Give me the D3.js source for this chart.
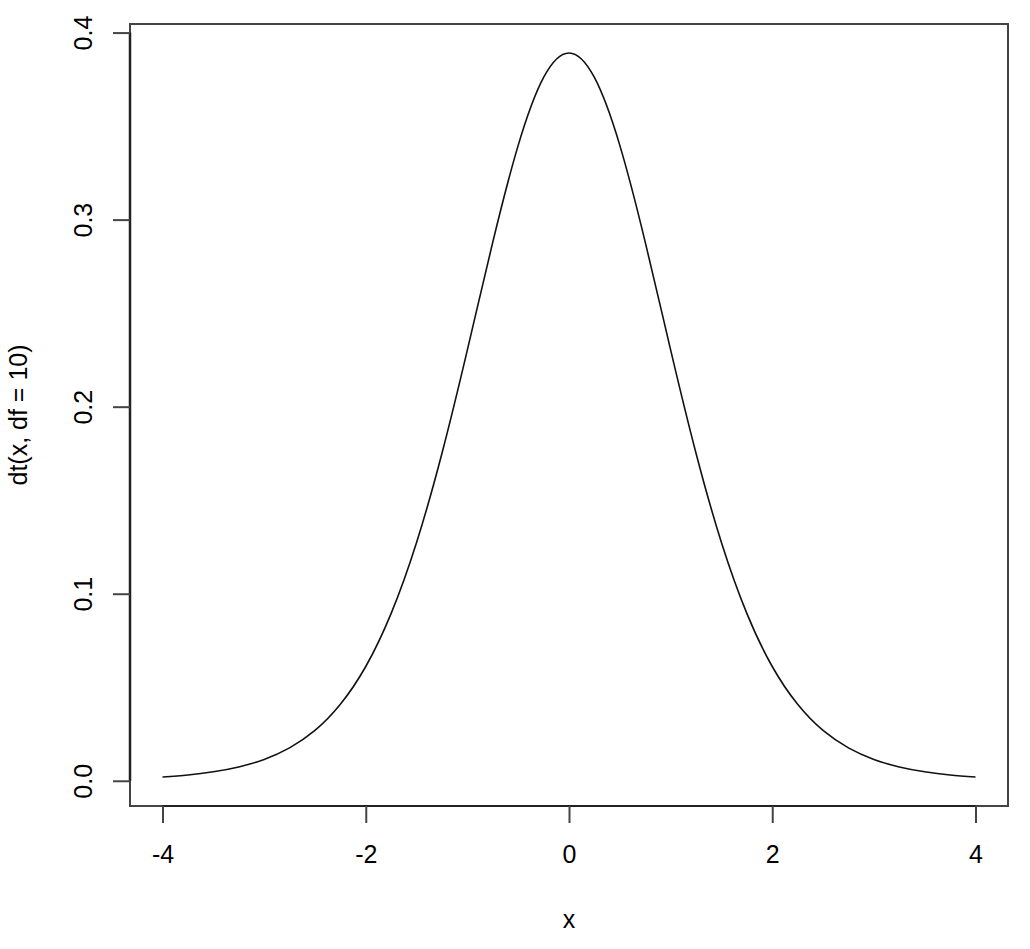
<!DOCTYPE html>
<html>
<head>
<meta charset="utf-8">
<script src="https://cdn.jsdelivr.net/npm/d3@7"></script>
<style>
  html, body { margin: 0; padding: 0; background: #fff; }
  svg { display: block; }
  text { font-family: "Liberation Sans", Arial, Helvetica, sans-serif; fill: #000; }
</style>
</head>
<body>
<svg id="chart" width="1030" height="949"></svg>
<script>
// Values
const xValues = [-4, -3.75, -3.5, -3.25, -3, -2.75, -2.5, -2.25, -2, -1.75, -1.5, -1.25, -1, -0.75, -0.5, -0.25,
                 0, 0.25, 0.5, 0.75, 1, 1.25, 1.5, 1.75, 2, 2.25, 2.5, 2.75, 3, 3.25, 3.5, 3.75, 4];
const densityValues = [0.0020, 0.0031, 0.0048, 0.0074, 0.0114, 0.0176, 0.0269, 0.0409, 0.0611, 0.0895, 0.1274, 0.1751, 0.2304, 0.2880, 0.3397, 0.3760,
                       0.3891, 0.3760, 0.3397, 0.2880, 0.2304, 0.1751, 0.1274, 0.0895, 0.0611, 0.0409, 0.0269, 0.0176, 0.0114, 0.0074, 0.0048, 0.0031, 0.0020];
const xTicks = [-4, -2, 0, 2, 4];
const yTicks = [0.0, 0.1, 0.2, 0.3, 0.4];
const yTickLabels = ["0.0", "0.1", "0.2", "0.3", "0.4"];
const xTitle = "x";
const yTitle = "dt(x, df = 10)";

(function () {
const svg = d3.select("#chart");
const pL = 130, pR = 1008, pT = 24, pB = 806;
const fontSize = 25;

// R-style 4% range extension
const xMin = d3.min(xValues), xMax = d3.max(xValues);
const yMin = d3.min(densityValues), yMax = d3.max(densityValues);
const xPad = (xMax - xMin) * 0.04, yPad = (yMax - yMin) * 0.04;
const x = d3.scaleLinear().domain([xMin - xPad, xMax + xPad]).range([pL, pR]);
const y = d3.scaleLinear().domain([yMin - yPad, yMax + yPad]).range([pB, pT]);

// Curve
const data = xValues.map((v, i) => [v, densityValues[i]]);
svg.append("path")
  .datum(data)
  .attr("fill", "none")
  .attr("stroke", "#111")
  .attr("stroke-width", 1.6)
  .attr("d", d3.line().x(d => x(d[0])).y(d => y(d[1])).curve(d3.curveNatural));

// Box
svg.append("rect")
  .attr("x", pL).attr("y", pT)
  .attr("width", pR - pL).attr("height", pB - pT)
  .attr("fill", "none").attr("stroke", "#444").attr("stroke-width", 2);

// X axis
const xAxis = d3.axisBottom(x).tickValues(xTicks).tickSize(17).tickPadding(10).tickFormat(d3.format("d"));
const gx = svg.append("g").attr("transform", `translate(0,${pB})`).call(xAxis);
gx.select(".domain").attr("d", `M${x(xTicks[0])},0H${x(xTicks[xTicks.length-1])}`).attr("stroke", "#222").attr("stroke-width", 2);
gx.selectAll(".tick line").attr("stroke", "#444").attr("stroke-width", 2);
gx.selectAll(".tick text")
  .attr("font-size", fontSize)
  .attr("font-family", "'Liberation Sans', Arial, sans-serif")
  .attr("fill", "#000")
  .attr("dy", null)
  .attr("y", 57)
  .text(d => d < 0 ? "-" + Math.abs(d) : String(d));

// Y axis
const yAxis = d3.axisLeft(y).tickValues(yTicks).tickSize(17).tickFormat((d, i) => yTickLabels[i]);
const gy = svg.append("g").attr("transform", `translate(${pL},0)`).call(yAxis);
gy.select(".domain").attr("d", `M0,${y(yTicks[0])}V${y(yTicks[yTicks.length-1])}`).attr("stroke", "#222").attr("stroke-width", 2.5);
gy.selectAll(".tick line").attr("stroke", "#444").attr("stroke-width", 2);
gy.selectAll(".tick text")
  .attr("font-size", fontSize)
  .attr("font-family", "'Liberation Sans', Arial, sans-serif")
  .attr("fill", "#000")
  .attr("x", null).attr("dy", null)
  .attr("text-anchor", "middle")
  .attr("transform", "translate(-38,0) rotate(-90)");

// Titles
svg.append("text")
  .attr("x", x(0)).attr("y", 928)
  .attr("text-anchor", "middle")
  .attr("font-size", fontSize)
  .text(xTitle);

svg.append("text")
  .attr("transform", `translate(27,${(pT + pB) / 2}) rotate(-90)`)
  .attr("text-anchor", "middle")
  .attr("font-size", fontSize)
  .text(yTitle);
})();
</script>
</body>
</html>
